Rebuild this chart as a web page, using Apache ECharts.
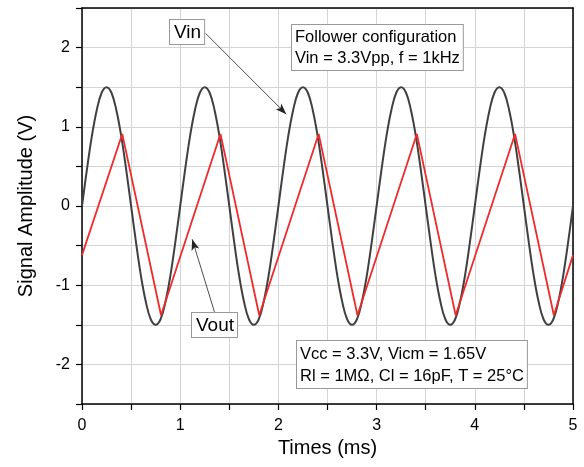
<!DOCTYPE html>
<html><head><meta charset="utf-8">
<script src="https://cdn.jsdelivr.net/npm/echarts@6/dist/echarts.min.js"></script>
<style>html,body{margin:0;padding:0;background:#fff}#c{width:584px;height:467px}</style>
</head><body><div id="c"></div>
<script>
// Vin sampled every 0.05 ms, 0..5 ms
const vinStep = 0.05;
const vinValues = [
 0, 0.46, 0.88, 1.21, 1.43, 1.5, 1.43, 1.21, 0.88, 0.46, 0, -0.46, -0.88, -1.21, -1.43, -1.5, -1.43, -1.21, -0.88, -0.46,
 0, 0.46, 0.88, 1.21, 1.43, 1.5, 1.43, 1.21, 0.88, 0.46, 0, -0.46, -0.88, -1.21, -1.43, -1.5, -1.43, -1.21, -0.88, -0.46,
 0, 0.46, 0.88, 1.21, 1.43, 1.5, 1.43, 1.21, 0.88, 0.46, 0, -0.46, -0.88, -1.21, -1.43, -1.5, -1.43, -1.21, -0.88, -0.46,
 0, 0.46, 0.88, 1.21, 1.43, 1.5, 1.43, 1.21, 0.88, 0.46, 0, -0.46, -0.88, -1.21, -1.43, -1.5, -1.43, -1.21, -0.88, -0.46,
 0, 0.46, 0.88, 1.21, 1.43, 1.5, 1.43, 1.21, 0.88, 0.46, 0, -0.46, -0.88, -1.21, -1.43, -1.5, -1.43, -1.21, -0.88, -0.46,
 0
];
// Vout breakpoints
const voutTimes  = [0, 0.41, 0.805, 1.41, 1.805, 2.41, 2.805, 3.41, 3.805, 4.41, 4.805, 5];
const voutValues = [-0.62, 0.91, -1.38, 0.91, -1.38, 0.91, -1.38, 0.91, -1.38, 0.91, -1.38, -0.62];
// Axis ticks
const xTicks = [0, 1, 2, 3, 4, 5];
const xMinorTicks = [0, 0.5, 1, 1.5, 2, 2.5, 3, 3.5, 4, 4.5, 5];
const yTicks = [-2, -1, 0, 1, 2];
const yMinorTicks = [-2.5, -2, -1.5, -1, -0.5, 0, 0.5, 1, 1.5, 2, 2.5];
// Annotation arrows (data coords)
const vinArrow  = [[1.258, 2.18], [2.08, 1.16]];
const voutArrow = [[1.349, -1.338], [1.122, -0.42]];

const FONT = 'Liberation Sans, Arial, sans-serif';
const vinData = vinValues.map((v, i) => [+(i * vinStep).toFixed(3), v]);
const voutData = voutTimes.map((t, i) => [t, voutValues[i]]);

const chart = echarts.init(document.getElementById('c'));
const tickStyle = {color: '#000', width: 1.2};
chart.setOption({
  animation: false,
  grid: {left: 82, right: 11, top: 8, bottom: 63},
  xAxis: [
    {
      type: 'value', min: 0, max: 5, interval: 1,
      name: 'Times (ms)', nameLocation: 'middle', nameGap: 34,
      nameTextStyle: {color: '#000', fontSize: 20, fontFamily: FONT},
      axisLine: {show: true, onZero: false, lineStyle: {color: '#000', width: 1.5}},
      axisTick: {show: true, inside: false, length: 6, lineStyle: tickStyle, customValues: xMinorTicks},
      axisLabel: {color: '#000', fontSize: 16, fontFamily: FONT, margin: 14,
        formatter: v => xTicks.includes(v) ? String(v) : ''},
      splitLine: {show: true, lineStyle: {color: '#d4d4d4', width: 1}}
    },
    {type: 'value', position: 'top', min: 0, max: 5,
     axisLine: {show: true, onZero: false, lineStyle: {color: '#000', width: 1.5}},
     axisTick: {show: false}, axisLabel: {show: false}, splitLine: {show: false}}
  ],
  yAxis: [
    {
      type: 'value', min: -2.5, max: 2.5, interval: 0.5,
      name: 'Signal Amplitude (V)', nameLocation: 'middle', nameGap: 46,
      nameTextStyle: {color: '#000', fontSize: 20, fontFamily: FONT},
      axisLine: {show: true, onZero: false, lineStyle: {color: '#000', width: 1.5}},
      axisTick: {show: true, inside: false, length: 6, lineStyle: tickStyle, customValues: yMinorTicks},
      axisLabel: {color: '#000', fontSize: 16, fontFamily: FONT, margin: 12,
        formatter: v => yTicks.includes(v) ? String(v) : ''},
      splitLine: {show: true, lineStyle: {color: '#d4d4d4', width: 1}}
    },
    {type: 'value', position: 'right', min: -2.5, max: 2.5,
     axisLine: {show: true, onZero: false, lineStyle: {color: '#000', width: 1.5}},
     axisTick: {show: false}, axisLabel: {show: false}, splitLine: {show: false}}
  ],
  series: [
    {
      name: 'Vin', type: 'line', data: vinData, smooth: 0.4, showSymbol: false,
      lineStyle: {color: '#404040', width: 2}, z: 3,
      markLine: {
        silent: true, symbol: ['none', 'arrow'], symbolSize: [6, 11],
        lineStyle: {color: '#222', width: 0.8, type: 'solid'}, label: {show: false},
        data: [
          [{coord: vinArrow[0]}, {coord: vinArrow[1]}],
          [{coord: voutArrow[0]}, {coord: voutArrow[1]}]
        ]
      }
    },
    {
      name: 'Vout', type: 'line', data: voutData, showSymbol: false,
      lineStyle: {color: '#f02a2a', width: 1.8}, z: 4
    }
  ],
  graphic: [
    {type: 'text', left: 169, top: 19, z: 10, style: {text: 'Vin', fontSize: 19, fontFamily: FONT, fill: '#000',
      backgroundColor: '#fff', borderColor: '#999', borderWidth: 1, padding: [3, 3, 2, 4]}},
    {type: 'text', left: 191, top: 312, z: 10, style: {text: 'Vout', fontSize: 19, fontFamily: FONT, fill: '#000',
      backgroundColor: '#fff', borderColor: '#999', borderWidth: 1, padding: [3, 3, 2, 4]}},
    {type: 'text', left: 291, top: 24, z: 10, style: {text: 'Follower configuration\nVin = 3.3Vpp, f = 1kHz', fontSize: 16.5, lineHeight: 21,
      fontFamily: FONT, fill: '#000', backgroundColor: '#fff', borderColor: '#999', borderWidth: 1, padding: [2, 3, 1, 3]}},
    {type: 'text', left: 296, top: 340, z: 10, style: {text: 'Vcc = 3.3V, Vicm = 1.65V\nRl = 1M\u03A9, Cl = 16pF, T = 25\u00B0C', fontSize: 16.5, lineHeight: 22,
      fontFamily: FONT, fill: '#000', backgroundColor: '#fff', borderColor: '#999', borderWidth: 1, padding: [2, 3, 1, 3]}}
  ]
});
</script></body></html>
